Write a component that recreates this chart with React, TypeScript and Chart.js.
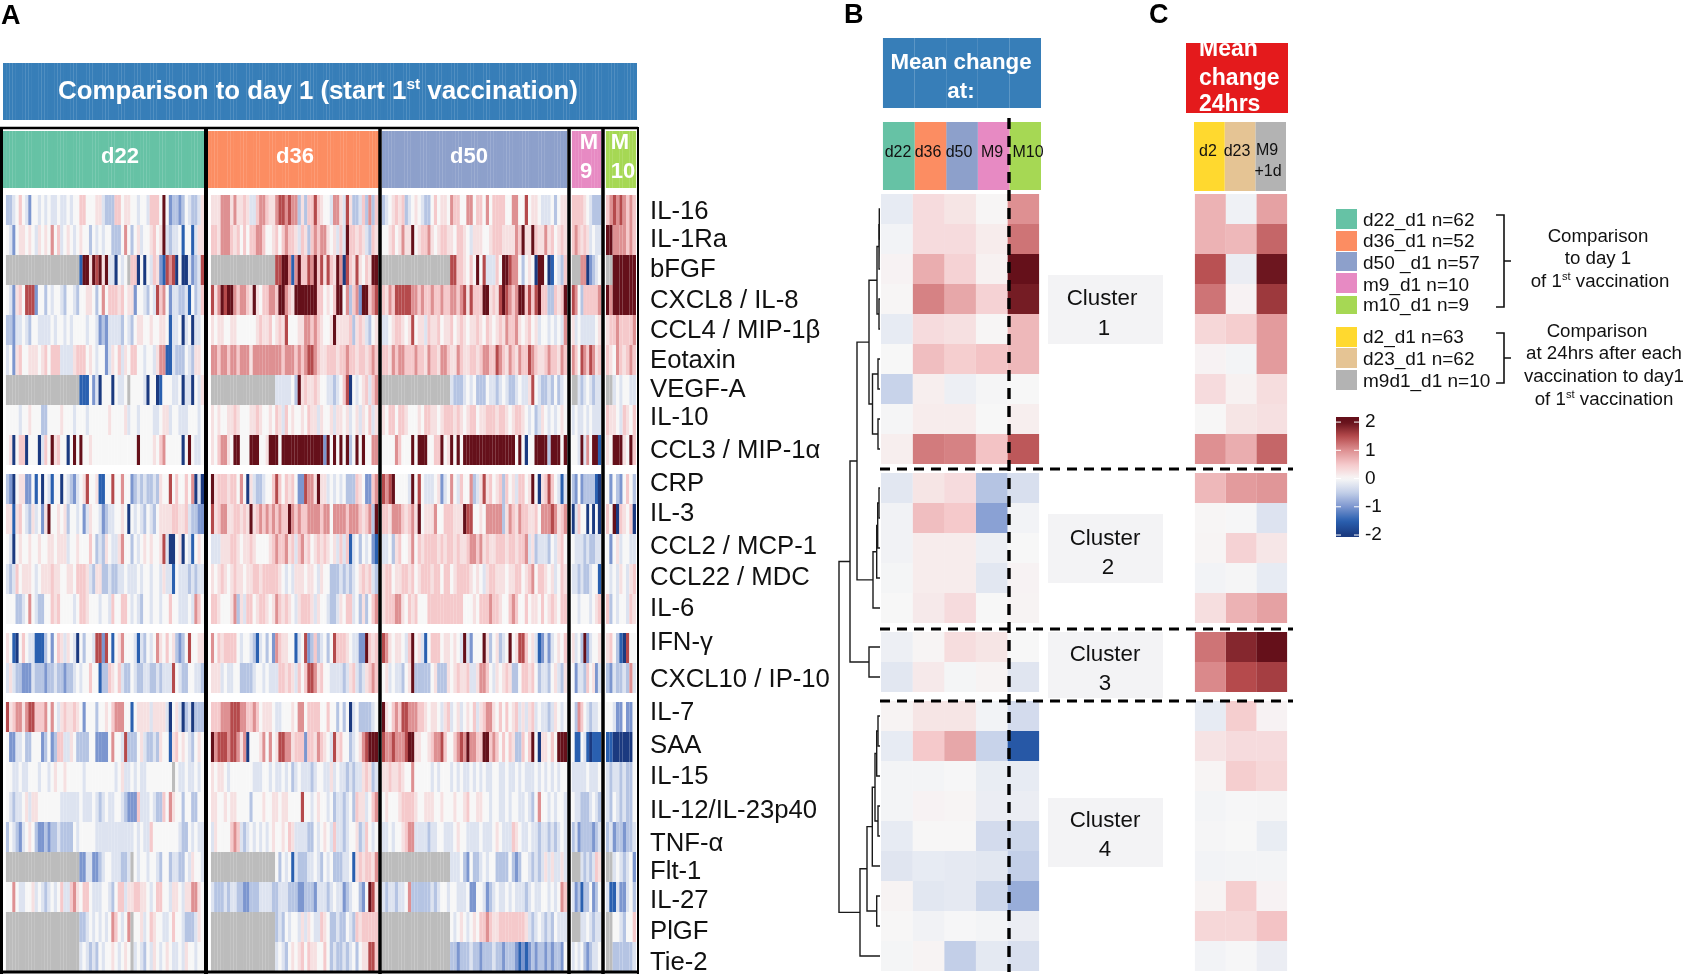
import React, { useEffect, useRef } from "react";
import { Chart, registerables } from "chart.js";

Chart.register(...registerables);

// ---------- data ----------
const cytokines = ["IL-16","IL-1Ra","bFGF","CXCL8 / IL-8","CCL4 / MIP-1β","Eotaxin","VEGF-A","IL-10","CCL3 / MIP-1α","CRP","IL-3","CCL2 / MCP-1","CCL22 / MDC","IL-6","IFN-γ","CXCL10 / IP-10","IL-7","SAA","IL-15","IL-12/IL-23p40","TNF-α","Flt-1","IL-27","PlGF","Tie-2"];
const groupSizes = [62,52,57,10,9];
// one letter per sample: n=-2 m=-1.5 l=-1 k=-0.6 j=-0.25 o=0 p=0.25 q=0.5 r=1 s=1.5 t=2 .=missing; groups d22|d36|d50|M9|M10
const levelCodes: Record<string, number | null> = { n:-2, m:-1.5, l:-1, k:-0.6, j:-0.25, o:0, p:0.25, q:0.5, r:1, s:1.5, t:2, ".":null };

const rowIL16 = "kkjoqojloo jojojjojjo jooqqooopp jkkkqqoppo ojoojqqqot olkklkojkkjp|ppprrrprpp qpjjqrrqpp rssrsrrkpk qqsqpoojrr pjspkkjqkrkq|kjopqpqkjo pojkkoqopp orqqoorroq qoroqqqqoo rroosoppoj jjokopp|qqqqpojkkk|qrsrsrqrq";
const rowIL1Ra = "ojloppopoj poporoqjop ojopookojo jookkkorok opjoopqopt jkjjomoomjpp|qqprrrqpqo qoqqrrqoop qoqrqqpjqp kqrqrrpopj qjtqqpqpjkqp|oopqoprppt opqqrpopqq ppoqqpojpp poopqqqppp prqtpptqpp rpqopqp|qrqpqpjojj|ttrrrrqrq";
const rowBFGF = "....................... mttptst ptjjnojo.q qnonojqplm srsnonnjlkjs|.................... ssttrmrtqq srtqspsqpt rnsqpspoqptt|..................... ssqqpoqoto sjjjqottsr rokopontto nmojkq|...rrnlkjo|..ttttttt";
const rowCXCL8 = "ojlpqosssl ookojoojko ojkooppoko roqqqpqopp loojkojsqr oljjkkjmokjq|sprtsttrqr rqptpoqqrr qttrqptttt tttqqopoqt torkqrlttqrs|qprqsssssr rqrqqrqqrq qrrqrspsqq qttpqpstsr qrttqsqstq qkkqpqt|srokqqqqqr|trttttttt";
const rowCCL4 = "kkljjojkoo jjjjojoojo joooojoojl kljjjjkojk oppoopoopp omjjonjonjjo|poppooppoo oooopqppqo pqpsoooppr rqrqpooptp pppqkpqpjkop|jjopqqpops oppjqppqop pqopqpoppq poqpopqprq qrpopqopjo ojojojr|pjojjjjjop|pqqrqqqqr";
const rowEotaxin = "jolpqooppp opqoqqqjjj jpqqqopojo oljpoqjpoq qoojoojprr mmjkkkojkppo|rrqrrqrrqr rrprrrrrrr rrqrrrqrqr ssrqppqqqp qqrqqpqqpqrq|qqprqrrqqq rqqprqqprr qpprqppqqp qrrqqsrqpr qprqqsrqpp qrqqprq|rqosrqsrpq|qporqpqrq";
const rowVEGF = "....................... mmmoljn ooonojjo.o ooojnoonmo oojjonjjnojp|.................... jjjjjoktpq ppqpoojjkj oqsnojopqjqr|..................... jkkkjojokk kojjkjojkk jojjpsojkk jkokjo|..jkjojkjj|..jojoojj";
const rowIL10 = "oooojoopoo okkoooopoo ojooojoooo oopoooopjo ojoooojjop pjoojjjooojo|popooppqpo ooppqpoopo qpjqopoopo qppjpoopjp popjopjpoqjp|poqqoqqpoo opoqqppopq qqpqpopqqo ppqqqpqqpo pqqpojokjp ojojopo|jojjojojjj|qppojqpoq";
const rowCCL3 = "opnoqqnooo njqotpqoon ototoopooo oooooooooo otoooopoqr ooooonotojjo|poqrrpotto oottto optt tottttttt t tttttltoto totkototoorr|oooorqooot otttooqqto ptotottttt tttttttttt totonoottt tktttot|oojtjrottm|potttpotq";
const rowCRP = "klnoppllom onojmoonoj kljopsoopm moosoorool kjkjkkjkpo osoqooqornjn|tpqqqpqqor onpjkkjooq sqoqpqolls rrptppjojo jokkkqpollqr|srstoooojt osojjjoplj orojqoorkj pspqopqkqo pjqqoptonp qsqojmj|klolkkkkmn|olokloqok";
const rowIL3 = "ppmpqojkpj olptoopopk oojoljpooj lkjjoopono jojkojkopp ppqqppqjkkll|spqrrppqqp qptpqrqrqr qrqqtrqrqq rrrrqrrorr rrqrrrqpqrkt|qqprrrqpqr ptoppprooq qqppptssoo porrrrrkpr qprqqppqor rrsrpqr|njqoononon|qotnqpoqn";
const rowCCL2 = "ojnopoopoo pooppopppj oopoooqokj kpojjprook ojopopoops jnnopnojmopo|jjjpppqqpo ppqpoooopq rqqrpqjqrp qopqpqpopj qjqmjokojolm|jjokpqoopr oqpqqqqpqp qqpqppqrrq rpqppqqqpq qpqqrjpkjj jkojpqo|ojjjkjkkjj|olopjoojj";
const rowCCL22 = "jkjqopppoj opppqppoop poqqqpjkpp kkjkkjjojj jojoojoojp jjmojjjkjkjj|popqpopqpp oppqqpqqqq qpojojpppo ppojpookkk jkjkjopqpqjk|pqqoppqqpq opqqqpqqoq qopqqqqpop ojpqqpppop pqqopqroqq popjoqp|jjkjkkjoom|ojojpojpq";
const rowIL6 = "oookkjoroj kkooqpqooo ojoqqpoooj oojqooqqoj ojkoojoojo oqoojjjojrqo|qqpoooprkp jqqopqqpop rqpqpojpqq qpjpoojkkj poqqjokpkoqr|pqqqrrpoqp qoooqqqqqq qqqqqooopo qqqrqqpooq rqooqoppoq opqpoqq|oojooojopq|qkojoojqp";
const rowIFN = "pomnoqojjm mmkoloqpjp ojnokoojss lsomoprooo jmjkojorpo qopklkosoopp|roqpqqqqoj oojkmjokol rqppoomjos lkqkjokosq qqpojjlltqpq|srpoppojqt opjmoqqqop popojtjloo otpkopkjot opssqopjml jljopoq|pjoktljoop|pqokmnsoo";
const rowCXCL10 = "jpjkkllljk kklkkjkklk kjojooqoom kkqpoqjkko jkkjjkkjkj jjsojkkoojjk|pppjojjook kkkjoojojj jqqpqpjqoq ssrpqoojjj jkjpqjkjpqrq|opjojjkopt kkkkkopkkk popqppqjjp rrqojpopqp kkoqqpqokj jkopjkp|oljjkqoplj|kljkkjkrj";
const rowIL7 = "spqrrprssq qqrorojpqp pqpoloooko opoqrrroom oppppjpppp jnopjnkjnkkk|qqqrrrsssr rqqrqopppo jjoooporro qqqqooqook okonjokkkkjo|tpoqrqssrr rqqpoppojp qjopjopoqj pqrrpoqoqo pqjpjpqjoj jkjpojo|okrqojkjjo|oojllollo";
const rowSAA = "olljjokkoo olkolkqqjj pokkkkooll lloroojskk kopjkkjkpo ompqopojkopo|trsssrssrp rnoooproro pssrrpqqql qqprqpojsp qookjoprsttt|srrsrrrstt ppoopqrrsq ooqrsrtrrq qttqrqoqoq pkkqoqtonp poqottt|ommojmnmmm|mmnnnnnno";
const rowIL15 = "oojjojjooo joojopoopo oooojooooo oooojopjjo jojjoooooo oo.ojjojjojo|poppojoooo ooojjjoojo jjojokjojj jkjoojjpjo jjkjkjjpqpkj|ppqppqpoor ooooojojoo ojojojjojo jojjoojjoj jojojjjojo jojojoo|jjjjjojjjo|jkjjkjkko";
const rowIL12 = "ojkjjopjpp ooooooojjj jjjojjjojk jojjoojkll lqjjjojkkq orpookookkoo|ppoopoppoo ookooopoop poppooooso ojopoojokj jkjokqppjoqr|opooopqqqq poopppoopo oopoopqoop poojoojjoj oojjojkoro ojojooj|ojjkkkjojk|jkojkjkko";
const rowTNF = "kojkljopok llklkkjkkk kojooooojj jjjjjjjjjj ojojjqoooo oooojkkojojj|jpooooqrqj kjojojojop oopoqpjjjj kkojopojqj jkjoopkjqojo|jjojoopqrr jjjjkjjooj jjopoojjjj ojjjopojjj qpojjojjkj jkjkjoj|kjlkkkklkj|kjlkklkkj";
const rowFlt1 = "....................... lljjllk joojjjkkj. ojoojoojko okjjkkojpooj|.................... okojomjkkk jjojkojokk kjjompqpqqpr|..................... jjjoklokkj ojookkkkok lkoojkjkjp jpjjpj|...jkjkjqp|..jojkjol";
const rowIL27 = "oorojjoopj ojkjojoqjj qrpoqqojjj oojkoqqjpp qqppojoqqo ojppojpprrpo|jkkkjkjjkk llkkkjjjjk kjjjkkkllk kkljjjkjoj jlkjooklotsp|jkjjkjjork kkkkkjkjoo joojjjollo ojlkjojjoj ojjjkjojjo ojojorq|jlkmkkolko|jmmjlljok";
const rowPlGF = "....................... kkjojoj ojorqojor. oopjoqpooj joqoojkkkjpo|.................... kjkojoojpj pojjqpokkj kkojkqpqqqqq|..................... ojopojopoq qrqppqqqqq qqqpjkjojk jkojjj|...jjojkjj|..oojkooq";
const rowTie2 = "....................... jojkjko joopojopo. jojkojpojo pojjojpoojoo|.................... jojkopopqo qppooqokjk kjkjokoppssq|..................... kklkkkjkkl kkkjkklkkk lmlmlklkkl klkklo|jojoklkjjo|..kkkkkkj";
const rowsA = [rowIL16,rowIL1Ra,rowBFGF,rowCXCL8,rowCCL4,rowEotaxin,rowVEGF,rowIL10,rowCCL3,rowCRP,rowIL3,rowCCL2,rowCCL22,rowIL6,rowIFN,rowCXCL10,rowIL7,rowSAA,rowIL15,rowIL12,rowTNF,rowFlt1,rowIL27,rowPlGF,rowTie2];

const timepointsB = ["d22","d36","d50","M9","M10"];
const meanD22 = [-0.15,-0.05,0.05,0.02,-0.15,0,-0.45,-0.02,0.1,-0.2,-0.06,-0.06,-0.03,0,-0.1,-0.2,0.04,-0.15,-0.04,-0.04,-0.15,-0.22,0.04,0.01,-0.03];
const meanD36 = [0.3,0.3,0.75,1.1,0.3,0.6,0.1,0.12,1.15,0.2,0.6,0.12,0.12,0.15,0.03,0.15,0.2,0.5,-0.04,0.05,0.01,-0.15,-0.2,-0.06,0.04];
const meanD50 = [0.2,0.3,0.4,0.8,0.25,0.45,-0.1,0.12,1.1,0.3,0.5,0.12,0.12,0.3,0.28,-0.03,0.2,0.8,-0.01,0.03,0.01,-0.17,-0.17,-0.01,-0.5];
const meanM9 = [0.02,0.12,0.07,0.4,0.02,0.55,-0.02,0,0.55,-0.6,-0.9,-0.1,-0.2,0,0.2,0.04,-0.05,-0.45,-0.13,-0.12,-0.35,-0.2,-0.4,-0.04,-0.18];
const meanM10 = [1.0,1.2,2.0,1.9,0.65,0.65,0,0.1,1.4,-0.3,-0.05,0,0.05,0.04,0,-0.22,-0.35,-1.6,-0.15,-0.12,-0.4,-0.5,-0.8,-0.12,-0.3];
const timepointsC = ["d2","d23","M9 +1d"];
const mean24D2 = [0.7,0.7,1.45,1.2,0.35,0.05,0.3,0.01,1.0,0.65,0.02,0.03,-0.05,0.27,1.2,1.05,-0.15,0.22,0.03,-0.04,-0.02,-0.05,0.04,0.35,-0.05];
const mean24D23 = [-0.08,0.65,-0.12,0.05,0.45,-0.04,0.07,0.2,0.75,0.9,-0.01,0.4,-0.02,0.7,1.8,1.5,0.45,0.3,0.45,-0.01,0,-0.04,0.45,0.35,-0.01];
const mean24M9 = [0.85,1.3,1.95,1.65,0.9,0.9,0.28,0.25,1.3,0.95,-0.25,0.18,-0.15,0.85,2.0,1.6,0.05,0.3,0.35,-0.02,-0.13,-0.04,0.05,0.55,-0.12];

// dendrogram merges: [height, child, child]; a number is a cytokine, "nK" refers to merge K
const dendroMerges: [number, number | string, number | string][] = [
  [0.7,0,1],[1,"n0",2],[1,3,4],[3,"n1","n2"],[2,5,6],[2,7,8],[7.5,"n4","n5"],[11,"n3","n6"],
  [1,9,10],[2.3,"n8",11],[3.3,"n9",12],[7,"n10",13],[23,"n7","n11"],[11,14,15],[30,"n12","n13"],
  [2,16,17],[3.3,"n15",18],[2,19,20],[5,"n16","n17"],[7.7,"n18",21],[3.3,22,23],[13,"n19","n20"],[20,"n21",24],[41,"n14","n22"],
];

const colorbarTicks = [2,1,0,-1,-2];
const legendA = [["d22_d1 n=62","#66c2a5"],["d36_d1 n=52","#fc8d62"],["d50 _d1 n=57","#8da0cb"],["m9_d1 n=10","#e78ac3"],["m10_d1 n=9","#a6d854"]];
const legendB = [["d2_d1 n=63","#ffd92f"],["d23_d1 n=62","#e5c494"],["m9d1_d1 n=10","#b3b3b3"]];

// ---------- style / layout ----------
const FONT = "'Liberation Sans', Arial, sans-serif";
const groupColors = ["#66c2a5","#fc8d62","#8da0cb","#e78ac3","#a6d854"];
const groupColorsC = ["#ffd92f","#e5c494","#b3b3b3"];
const BLUE = "#377eb8", RED = "#e41a1c", NA_COLOR = "#bcbcbc";
const stops: [number, number[]][] = [[-2,[27,58,128]],[-1.5,[42,96,176]],[-1,[124,150,207]],[-0.5,[195,207,232]],[0,[247,247,247]],[0.5,[245,201,203]],[1,[222,144,146]],[1.5,[181,74,76]],[2,[101,16,26]]];
const valueColor = (v: number | null) => {
  if (v === null) return NA_COLOR;
  const c = Math.max(-2, Math.min(2, v));
  for (let i = 1; i < stops.length; i++) {
    if (c <= stops[i][0]) {
      const [a, ca] = stops[i - 1], [b, cb] = stops[i];
      const t = (c - a) / (b - a);
      const m = ca.map((x, k) => Math.round(x + (cb[k] - x) * t));
      return `rgb(${m[0]},${m[1]},${m[2]})`;
    }
  }
  return "#65101a";
};
const rowPos = (i: number) => i + (i >= 9 ? 0.3 : 0) + (i >= 14 ? 0.3 : 0) + (i >= 16 ? 0.3 : 0);
const decodeRow = (s: string) => {
  const parts = s.replace(/\s/g, "").split("|");
  return groupSizes.map((n, g) => {
    const out: (number | null)[] = [];
    const p = parts[g] || "";
    for (let i = 0; i < n; i++) { const ch = p[i] ?? "o"; const v = levelCodes[ch]; out.push(v === undefined ? 0 : v); }
    return out;
  });
};
const spansCells = [[6,204],[211,378],[382,567],[572,601],[606,636]];
const spansHead = [[3,204],[208,379],[382,567],[572,601],[606,636]];
const labelCentres = [211.5,239.5,269.5,300.5,330.5,360.5,389.5,417.5,450.5,483.5,513.5,546.5,577.5,608.5,643,680,713,746,777,811,844,872,901,932,963];

const barDs = (data: any[], colors: any, thick: number, inflate: any = "auto") => ({
  type: "bar", data, backgroundColor: colors, borderWidth: 0, grouped: false,
  categoryPercentage: 100000, barPercentage: 1, maxBarThickness: thick, inflateAmount: inflate,
});
const baseOpts = (padding: any, scales: any) => ({
  responsive: false, animation: false, events: [], devicePixelRatio: 1,
  layout: { padding },
  plugins: { legend: { display: false }, tooltip: { enabled: false } },
  scales,
});
const hiddenLinear = (min: number, max: number, reverse = false) => ({ type: "linear", display: false, min, max, reverse, offset: false });

function textAt(ctx: any, s: string, x: number, y: number, font: string, color = "#111", align: any = "center") {
  ctx.font = font; ctx.fillStyle = color; ctx.textAlign = align; ctx.textBaseline = "middle"; ctx.fillText(s, x, y);
}
function withSup(ctx: any, before: string, sup: string, after: string, cx: number, baseY: number, size: number, weight: string, color: string) {
  const f = `${weight} ${size}px ${FONT}`, fs = `${weight} ${size * 0.6}px ${FONT}`;
  ctx.textAlign = "left"; ctx.textBaseline = "alphabetic"; ctx.fillStyle = color;
  ctx.font = f; const w1 = ctx.measureText(before).width, w3 = ctx.measureText(after).width;
  ctx.font = fs; const w2 = ctx.measureText(sup).width;
  let x = cx - (w1 + w2 + w3) / 2;
  ctx.font = f; ctx.fillText(before, x, baseY); x += w1;
  ctx.font = fs; ctx.fillText(sup, x, baseY - size * 0.38); x += w2;
  ctx.font = f; ctx.fillText(after, x, baseY);
}

const frameA = { id: "frameA", afterDraw(c: any) {
  const ctx = c.ctx; ctx.save(); ctx.strokeStyle = "#000";
  const seg = (x1: number, y1: number, x2: number, y2: number, w: number) => { ctx.lineWidth = w; ctx.beginPath(); ctx.moveTo(x1,y1); ctx.lineTo(x2,y2); ctx.stroke(); };
  seg(0,128,638,128,2.5); seg(0,972,638,972,3);
  seg(1.5,127,1.5,974,3); seg(206,127,206,974,4); seg(380,127,380,974,3.5); seg(569,127,569,974,3.5); seg(603,127,603,974,3.5); seg(638,127,638,974,2);
  const H = `bold 22px ${FONT}`;
  textAt(ctx,"d22",120,157,H,"#fff"); textAt(ctx,"d36",295,157,H,"#fff"); textAt(ctx,"d50",469,157,H,"#fff");
  textAt(ctx,"M",589,143,H,"#fff"); textAt(ctx,"9",586,172,H,"#fff");
  textAt(ctx,"M",620,143,H,"#fff"); textAt(ctx,"10",623,172,H,"#fff");
  withSup(ctx,"Comparison to day 1 (start 1","st"," vaccination)",318,99,25.8,"bold","#fff");
  cytokines.forEach((n,i)=>textAt(ctx,n,650,labelCentres[i],`25.7px ${FONT}`,"#111","left"));
  ctx.restore();
}};

const overlay = { id: "overlay", afterDraw(c: any) {
  const ctx = c.ctx; ctx.save();
  const ys = c.scales.y, a = c.chartArea;
  ctx.strokeStyle = "#fff"; ctx.lineWidth = 1;
  colorbarTicks.forEach(v=>{ const p = ys.getPixelForValue(v); ctx.beginPath(); ctx.moveTo(a.left,p); ctx.lineTo(a.left+5,p); ctx.moveTo(a.right-5,p); ctx.lineTo(a.right,p); ctx.stroke(); });
  const L = `bold 27px ${FONT}`;
  textAt(ctx,"A",1,17,L,"#000","left"); textAt(ctx,"B",844,16,L,"#000","left"); textAt(ctx,"C",1149,16,L,"#000","left");
  const H = `bold 22.3px ${FONT}`;
  textAt(ctx,"Mean change",961,63,H,"#fff"); textAt(ctx,"at:",961,92,H,"#fff");
  const HC = `bold 23px ${FONT}`;
  ctx.save(); ctx.beginPath(); ctx.rect(1186,43,102,70); ctx.clip();
  textAt(ctx,"Mean",1199,50,HC,"#fff","left"); textAt(ctx,"change",1199,79,HC,"#fff","left"); textAt(ctx,"24hrs",1199,105,HC,"#fff","left");
  ctx.restore();
  const S = `16px ${FONT}`;
  [898,928,959,992,1028].forEach((x,i)=>textAt(ctx,timepointsB[i],x,153,S));
  textAt(ctx,"d2",1208,152,S); textAt(ctx,"d23",1237,152,S); textAt(ctx,"M9",1267,151,S); textAt(ctx,"+1d",1268,172,S);
  const C = `22.3px ${FONT}`;
  [[275,344,299,329,1102,1104],[514,583,539,568,1105,1108],[632,698,655,684,1105,1105],[798,867,821,850,1105,1105]].forEach((b,i)=>{
    ctx.fillStyle = "#f3f3f5"; ctx.fillRect(1048,b[0],115,b[1]-b[0]);
    textAt(ctx,"Cluster",b[4],b[2],C); textAt(ctx,String(i+1),b[5],b[3],C);
  });
  ctx.strokeStyle = "#000"; ctx.lineWidth = 3;
  ctx.setLineDash([10,7]);
  [469,629,701].forEach(y=>{ ctx.beginPath(); ctx.moveTo(880,y); ctx.lineTo(1293,y); ctx.stroke(); });
  ctx.lineWidth = 3.4; ctx.setLineDash([11,7]);
  ctx.beginPath(); ctx.moveTo(1009,118); ctx.lineTo(1009,972); ctx.stroke();
  ctx.setLineDash([]);
  const T = `19px ${FONT}`;
  const ya = [[209,20,221],[231,20,242],[252,19,264],[273,20,286],[296,18,306]];
  legendA.forEach((l,i)=>{ ctx.fillStyle=l[1]; ctx.fillRect(1336,ya[i][0],21,ya[i][1]); textAt(ctx,l[0],1363,ya[i][2],T,"#111","left"); });
  const yb = [[327,20,338],[348,20,360],[370,20,382]];
  legendB.forEach((l,i)=>{ ctx.fillStyle=l[1]; ctx.fillRect(1336,yb[i][0],21,yb[i][1]); textAt(ctx,l[0],1363,yb[i][2],T,"#111","left"); });
  ctx.strokeStyle="#111"; ctx.lineWidth=1.6;
  [[215,307,261],[333,383,358]].forEach(b=>{ ctx.beginPath(); ctx.moveTo(1496,b[0]); ctx.lineTo(1504,b[0]); ctx.lineTo(1504,b[1]); ctx.lineTo(1496,b[1]); ctx.moveTo(1504,b[2]); ctx.lineTo(1511,b[2]); ctx.stroke(); });
  const R = `18.7px ${FONT}`;
  textAt(ctx,"Comparison",1598,237,R); textAt(ctx,"to day 1",1598,259,R);
  withSup(ctx,"of 1","st"," vaccination",1600,287,18.7,"normal","#111");
  textAt(ctx,"Comparison",1597,332,R); textAt(ctx,"at 24hrs after each",1604,354,R); textAt(ctx,"vaccination to day1",1604,377,R);
  withSup(ctx,"of 1","st"," vaccination",1604,405,18.7,"normal","#111");
  ctx.restore();
}};

export default function App() {
  const aRef = useRef<HTMLCanvasElement>(null), bRef = useRef<HTMLCanvasElement>(null), cRef = useRef<HTMLCanvasElement>(null), dRef = useRef<HTMLCanvasElement>(null), eRef = useRef<HTMLCanvasElement>(null);
  useEffect(() => {
    const charts: Chart[] = [];
    Chart.defaults.font.family = FONT;
    // ---- panel A
    const yA = (px: number) => (px - 195) / 30;
    const dsA: any[] = [];
    const titleN = 198;
    dsA.push(barDs(Array.from({length:titleN},(_,i)=>({x:3+(i+0.5)*634/titleN,y:[yA(63),yA(120)]})),BLUE,634/titleN+0.25,0));
    spansHead.forEach((s,g)=>{
      const n = Math.round((s[1]-s[0])/3.2), w=(s[1]-s[0])/n;
      dsA.push(barDs(Array.from({length:n},(_,i)=>({x:s[0]+(i+0.5)*w,y:[yA(131),yA(188)]})),groupColors[g],w+0.25,0));
    });
    rowsA.forEach((row,r)=>{
      const vals = decodeRow(row);
      const data:any[]=[], cols:string[]=[];
      vals.forEach((gv,g)=>{
        const [a,b]=spansCells[g], w=(b-a)/gv.length;
        gv.forEach((v,i)=>{ data.push({x:a+(i+0.5)*w,y:[rowPos(r),rowPos(r)+1]}); cols.push(valueColor(v)); });
      });
      dsA.push(barDs(data,cols,3.35,0));
    });
    charts.push(new Chart(aRef.current!,{type:"bar",data:{datasets:dsA},plugins:[frameA],
      options: baseOpts({left:3,right:1687-637,top:63,bottom:2},{x:hiddenLinear(3,637),y:hiddenLinear(yA(63),25.9,true)}) as any} as any));

    // ---- panels B and C
    const yB = (px:number)=>(px-194)/30;
    const cellsDs = (series:number[][]) => series.map((vals,k)=>barDs(vals.map((_,r)=>({x:k+0.5,y:[rowPos(r),rowPos(r)+1]})),vals.map(valueColor),0));
    const dsB:any[] = cellsDs([meanD22,meanD36,meanD50,meanM9,meanM10]).map(d=>({...d,maxBarThickness:31.8}));
    const off = 2/31.6;
    timepointsB.forEach((_,k)=>{
      dsB.push(barDs([{x:k+0.5+off,y:[yB(38),yB(108)]}],BLUE,31.7,0));
      dsB.push(barDs([{x:k+0.5+off,y:[yB(122),yB(190)]}],groupColors[k],31.7,0));
    });
    charts.push(new Chart(bRef.current!,{type:"bar",data:{datasets:dsB},
      options: baseOpts({left:881,right:1687-1041,top:38,bottom:3},{x:hiddenLinear(0,160/31.6),y:hiddenLinear(yB(38),25.9,true)}) as any} as any));

    const wC=30.67, offC=-1/wC;
    const dsC:any[] = cellsDs([mean24D2,mean24D23,mean24M9]).map(d=>({...d,maxBarThickness:wC+0.2}));
    dsC.push(barDs([{x:(1237-1195)/wC,y:[yB(43),yB(113)]}],RED,102,0));
    timepointsC.forEach((_,k)=>dsC.push(barDs([{x:k+0.5+offC,y:[yB(122),yB(191)]}],groupColorsC[k],wC,0)));
    charts.push(new Chart(cRef.current!,{type:"bar",data:{datasets:dsC},
      options: baseOpts({left:1186,right:1687-1288,top:38,bottom:3},{x:hiddenLinear(-9/wC,93/wC),y:hiddenLinear(yB(38),25.9,true)}) as any} as any));

    // ---- dendrogram
    const node:{h:number;y:number}[]=[];
    const resolve=(k:number|string)=> typeof k==="number" ? {h:0,y:rowPos(k)+0.5} : node[Number(k.slice(1))];
    const dsD:any[]=dendroMerges.map(([h,a,b])=>{
      const ca=resolve(a), cb=resolve(b);
      node.push({h,y:(ca.y+cb.y)/2});
      return {type:"scatter",showLine:true,data:[{x:ca.h,y:ca.y},{x:h,y:ca.y},{x:h,y:cb.y},{x:cb.h,y:cb.y}],borderColor:"#1a1a1a",borderWidth:1.4,pointRadius:0,tension:0};
    });
    charts.push(new Chart(dRef.current!,{type:"scatter",data:{datasets:dsD},
      options: baseOpts({left:838,right:1687-880,top:38,bottom:3},{x:hiddenLinear(0,42,true),y:hiddenLinear(yB(38),25.9,true)}) as any} as any));

    // ---- colour bar (also carries the overlay text)
    const gradient=(ctxx:any)=>{
      const {ctx,chartArea,scales}=ctxx.chart; if(!chartArea) return "#fff";
      const g=ctx.createLinearGradient(0,chartArea.top,0,chartArea.bottom);
      const top=scales.y.max, bot=scales.y.min;
      for(let i=0;i<=40;i++){ const v=top+(bot-top)*i/40; g.addColorStop(i/40,valueColor(v)); }
      return g;
    };
    charts.push(new Chart(eRef.current!,{type:"bar",data:{labels:["scale"],datasets:[{data:[[-2.07,2.18]],backgroundColor:gradient,borderWidth:0,categoryPercentage:1,barPercentage:1}]},plugins:[overlay],
      options: baseOpts({left:1336,right:1687-1359-32,top:417,bottom:974-537},{
        x:{type:"category",display:false,offset:true},
        y:{type:"linear",position:"right",min:-2.07,max:2.18,grid:{display:false,drawTicks:false,tickLength:0},border:{display:false},
           afterBuildTicks:(s:any)=>{s.ticks=colorbarTicks.map(v=>({value:v}));},
           afterFit:(s:any)=>{s.width=32;},
           ticks:{color:"#111",font:{size:19,family:FONT},padding:6,callback:(v:any)=>String(v)}},
      }) as any} as any));
    return ()=>charts.forEach(c=>c.destroy());
  },[]);
  const st:React.CSSProperties={position:"absolute",left:0,top:0,display:"block"};
  return (
    <div style={{position:"absolute",left:0,top:0,width:1687,height:974,background:"#fff",overflow:"hidden"}}>
      <canvas ref={aRef} width={1687} height={974} style={st}/>
      <canvas ref={bRef} width={1687} height={974} style={st}/>
      <canvas ref={cRef} width={1687} height={974} style={st}/>
      <canvas ref={dRef} width={1687} height={974} style={st}/>
      <canvas ref={eRef} width={1687} height={974} style={st}/>
    </div>
  );
}
